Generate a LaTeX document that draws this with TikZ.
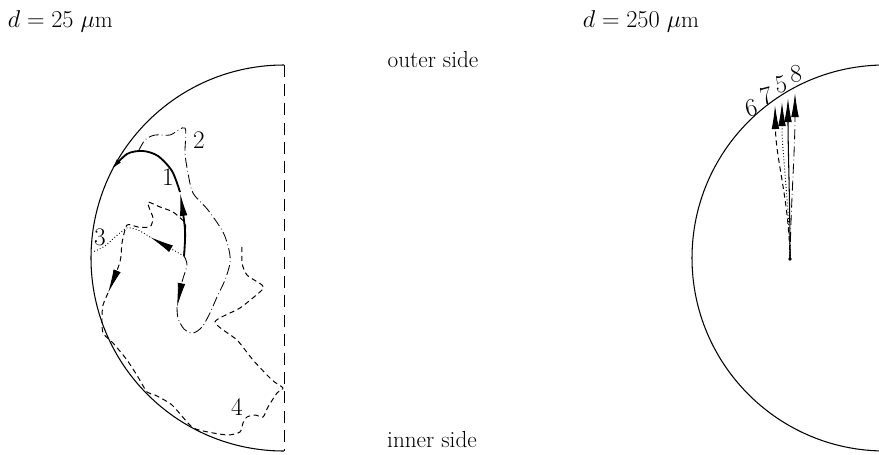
\documentclass[tikz,border=0pt]{standalone}
\usepackage{amsmath,amssymb}
\usepackage{tikz}
\usetikzlibrary{arrows.meta}

\begin{document}
\begin{tikzpicture}[x=0.025cm, y=-0.025cm, >={Latex[length=6mm,width=1.9mm]},
    every node/.style={font=\fontsize{16.5}{19}\selectfont},
    num/.style={font=\fontsize{18}{20}\selectfont, inner sep=1pt},
    wall/.style={line width=0.75pt},
    sym/.style={line width=0.7pt, dash pattern=on 3mm off 1.8mm},
    tra/.style={line width=1.3pt},
    trb/.style={line width=0.6pt, dash pattern=on 2.5mm off 0.8mm on 0.5pt off 0.8mm},
    trc/.style={line width=0.7pt, dash pattern=on 0.6pt off 1.6pt},
    trd/.style={line width=0.7pt, dash pattern=on 1.3mm off 0.9mm}]
    \useasboundingbox (0,0) rectangle (879,454);
    \clip (0,0) rectangle (879,454);
    % d = 25 mu m, half section
    \draw[wall] (284,65) arc[start angle=270, end angle=90, radius=193];
    \draw[sym] (284,65) -- (284,451);
    \coordinate (s1) at (184,256);
    % 1
    \draw[tra,->] plot[smooth] coordinates {(s1) (185,230) (180,192)};
    \draw[tra,-{Latex[length=3mm,width=1.3mm]}] plot[smooth] coordinates {(180,192) (172,171) (158,156) (143,151) (127,154) (111,170)};
    % 2
    \draw[trb,->] plot[smooth] coordinates {(s1) (187,265) (182,282) (177,307)};
    \draw[trb] plot[smooth, tension=0.5] coordinates {(177,307) (178,318) (184,329) (193,333) (202,327) (210,313) (217,297) (225,280) (230,263) (229,250) (223,232) (208,210) (193,193) (188,173) (185,153) (185,128) (170,135) (155,135) (145,140) (138,152)};
    % 3
    \draw[trc,->] (s1) -- (150,237);
    \draw[trc] plot[smooth, tension=0.4] coordinates {(150,237) (138,230) (127,228) (115,237) (105,246) (93,252)};
    % 4
    \draw[trd,->] plot[smooth, tension=0.4] coordinates {(s1) (185,235) (185,223) (173,212) (160,207) (148,202) (150,210) (153,218) (150,227) (138,227) (127,225) (122,243) (120,262) (108,293)};
    \draw[trd] plot[smooth, tension=0.4] coordinates {(108,293) (103,305) (102,317) (103,333) (113,343) (127,360) (138,377) (147,392) (155,395) (172,405) (192,427) (208,432) (228,435) (240,432) (243,423) (247,417) (255,415) (263,417) (268,407) (277,393) (283,388) (272,380) (253,360) (237,340) (215,322) (240,308) (262,290) (262,285) (247,275) (242,263) (242,245)};
    \node[num] (n1) at (168,177) {1};
    \node[num] (n2) at (199,140) {2};
    \node[num] (n3) at (100,237) {3};
    \node[num] (n4) at (237,407) {4};
    \node[anchor=west] (dleft) at (3,21) {$d = 25~\mu$m};
    % d = 250 mu m, full section
    \draw[wall] (885,258) circle[radius=193];
    \coordinate (s2) at (790,259);
    \fill (s2) circle[radius=1.3pt];
    \draw[wall,->] (s2) .. controls (790,200) and (788,150) .. (788,98);
    \draw[trd,->] (s2) .. controls (789,200) and (776,160) .. (775,105);
    \draw[trc,->] (s2) .. controls (789,200) and (782,155) .. (782,102);
    \draw[trb,->] (s2) .. controls (791,200) and (795,150) .. (795,93);
    \node[num, rotate=15] (n6) at (751,108) {6};
    \node[num, rotate=15] (n7) at (766,96) {7};
    \node[num, rotate=10] (n5) at (781,84) {5};
    \node[num, rotate=5] (n8) at (796,74) {8};
    \node[anchor=west] (dright) at (578,21) {$d = 250~\mu$m};
    \node (outer) at (433,60) {outer side};
    \node (inner) at (432,440) {inner side};
\end{tikzpicture}
\end{document}
